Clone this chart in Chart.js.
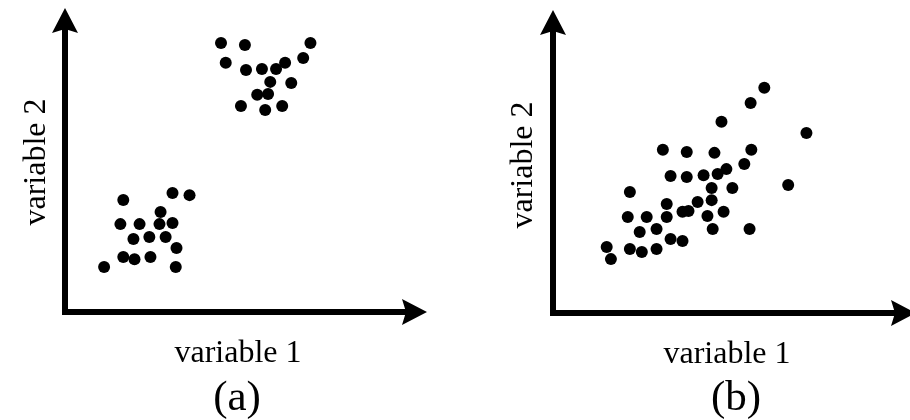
<!DOCTYPE html>
<html>
<head>
<meta charset="utf-8">
<script src="https://cdn.jsdelivr.net/npm/chart.js@4"></script>
<style>
  html, body { margin: 0; padding: 0; background: #fff; }
  #wrap { position: relative; width: 910px; height: 420px; overflow: hidden; }
  .panel { position: absolute; top: 0; width: 455px; height: 420px; }
</style>
</head>
<body>
<div id="wrap">
  <div class="panel" style="left:0"><canvas id="chartA" width="455" height="420"></canvas></div>
  <div class="panel" style="left:455px"><canvas id="chartB" width="455" height="420"></canvas></div>
</div>
<script>
// labels
const xTitle = 'variable 1';
const yTitle = 'variable 2';
const panelTags = ['(a)', '(b)'];

// panel (a): two separate clusters (axis units 0-10)
const aLowX = [1.61, 2.97, 3.44, 2.64, 1.53, 2.06, 2.61, 2.97, 1.89, 2.33, 2.78, 3.08, 1.61, 1.92, 2.36, 1.08, 3.06];
const aLowY = [3.71, 3.94, 3.87, 3.31, 2.91, 2.91, 2.91, 2.95, 2.42, 2.48, 2.48, 2.12, 1.82, 1.75, 1.82, 1.49, 1.49];
const aHighX = [4.31, 4.97, 6.78, 4.44, 6.58, 5.00, 5.44, 5.83, 6.08, 5.67, 6.25, 5.31, 5.61, 4.86, 5.53, 6.00];
const aHighY = [8.91, 8.84, 8.91, 8.25, 8.41, 8.01, 8.05, 8.05, 8.25, 7.62, 7.58, 7.19, 7.22, 6.82, 6.69, 6.82];

// panel (b): one correlated cloud
const bX = [6.02, 5.63, 4.80, 7.22, 3.13, 3.81, 4.60, 5.65, 5.45, 4.94, 4.69, 4.29, 3.81, 3.35, 6.70, 2.19, 4.52, 5.11, 4.52, 4.12,
            3.24, 4.86, 4.40, 3.86, 3.69, 2.67, 2.13, 3.24, 2.95, 2.47, 4.55, 5.60, 3.35, 3.69, 2.19, 2.53, 2.95, 1.53, 1.65];
const bY = [7.48, 6.98, 6.35, 5.98, 5.42, 5.35, 5.32, 5.42, 4.95, 4.78, 4.62, 4.58, 4.52, 4.55, 4.25, 4.02, 4.15, 4.15, 3.75, 3.69,
            3.62, 3.36, 3.22, 3.39, 3.36, 3.19, 3.19, 3.19, 2.79, 2.69, 2.79, 2.79, 2.46, 2.39, 2.13, 2.03, 2.13, 2.19, 1.79];

const toPoints = (xs, ys) => xs.map((x, i) => ({ x: x, y: ys[i] }));

const FONT = '"Liberation Serif", "Times New Roman", serif';

// draws the arrow axes and the texts
const arrowAxes = {
  id: 'arrowAxes',
  beforeDatasetsDraw(chart, args, opts) {
    const { ctx, chartArea: a } = chart;
    const lw = 6, len = 25, half = 13, notch = 4;
    const tipX = a.right + (opts.overshoot || 0);
    const tipY = a.top - 2;
    ctx.save();
    ctx.strokeStyle = '#000';
    ctx.fillStyle = '#000';
    ctx.lineWidth = lw;
    ctx.beginPath();
    ctx.moveTo(a.left, a.bottom + lw / 2);
    ctx.lineTo(a.left, tipY + len - notch);
    ctx.moveTo(a.left - lw / 2, a.bottom);
    ctx.lineTo(tipX - len + notch, a.bottom);
    ctx.stroke();
    // up arrow head
    ctx.beginPath();
    ctx.moveTo(a.left, tipY);
    ctx.lineTo(a.left + half, tipY + len);
    ctx.lineTo(a.left, tipY + len - notch);
    ctx.lineTo(a.left - half, tipY + len);
    ctx.closePath();
    ctx.fill();
    // right arrow head
    ctx.beginPath();
    ctx.moveTo(tipX, a.bottom);
    ctx.lineTo(tipX - len, a.bottom - half);
    ctx.lineTo(tipX - len + notch, a.bottom);
    ctx.lineTo(tipX - len, a.bottom + half);
    ctx.closePath();
    ctx.fill();
    ctx.restore();
  },
  afterDraw(chart, args, opts) {
    const ctx = chart.ctx;
    ctx.save();
    ctx.fillStyle = '#000';
    ctx.textAlign = 'center';
    ctx.textBaseline = 'alphabetic';
    ctx.font = '32px ' + FONT;
    ctx.fillText(xTitle, opts.xTitle[0], opts.xTitle[1]);
    ctx.font = '43px ' + FONT;
    ctx.fillText(opts.tag, opts.tagPos[0], opts.tagPos[1]);
    ctx.translate(opts.yTitle[0], opts.yTitle[1]);
    ctx.rotate(-Math.PI / 2);
    ctx.font = '32px ' + FONT;
    ctx.fillText(yTitle, 0, 0);
    ctx.restore();
  }
};

function makeChart(id, datasets, pad, extra) {
  return new Chart(document.getElementById(id), {
    type: 'scatter',
    data: { datasets: datasets },
    options: {
      responsive: false,
      animation: false,
      layout: { padding: pad },
      scales: {
        x: { type: 'linear', min: 0, max: 10, display: false },
        y: { type: 'linear', min: 0, max: 10, display: false }
      },
      elements: {
        point: { radius: 6, hoverRadius: 6, backgroundColor: '#000', borderWidth: 0 }
      },
      plugins: {
        legend: { display: false },
        tooltip: { enabled: false },
        arrowAxes: extra
      }
    },
    plugins: [arrowAxes]
  });
}

makeChart('chartA', [
  { data: toPoints(aLowX, aLowY), backgroundColor: '#000', clip: false },
  { data: toPoints(aHighX, aHighY), backgroundColor: '#000', clip: false }
], { left: 65, right: 28, top: 10, bottom: 108 }, {
  overshoot: 0,
  xTitle: [238, 362],
  yTitle: [45, 162],
  tag: panelTags[0],
  tagPos: [237, 410]
});

makeChart('chartB', [
  { data: toPoints(bX, bY), backgroundColor: '#000', clip: false }
], { left: 98, right: 5, top: 12, bottom: 107 }, {
  overshoot: 12,
  xTitle: [272, 363],
  yTitle: [77, 165],
  tag: panelTags[1],
  tagPos: [281, 410]
});
</script>
</body>
</html>
